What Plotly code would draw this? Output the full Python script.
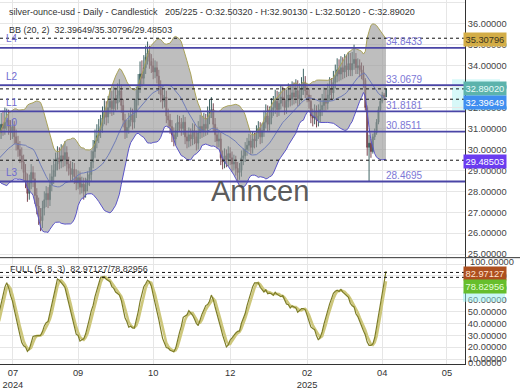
import numpy as np
import pandas as pd
import plotly.graph_objects as go

# ---------------- data ----------------
first_index = -25   # 25 warm-up bars before the visible window

opens = [
    30.20, 30.40, 29.60, 30.00, 31.30, 29.20, 29.60, 29.20, 29.60, 28.90,
    29.50, 29.40, 29.50, 30.10, 30.80, 29.60, 29.60, 29.00, 28.90, 29.20,
    29.10, 29.50, 29.60, 30.50, 30.80,
    31.20, 31.00, 31.30, 31.40, 31.05, 30.80, 31.10, 30.60, 30.30, 30.00,
    29.70, 29.40, 28.90, 28.50, 27.90, 28.40, 28.90, 28.60, 27.80, 27.30,
    26.80, 26.60, 27.20, 27.60, 27.90, 27.60, 28.30, 28.70, 29.00, 29.30,
    29.60, 29.40, 29.70, 29.50, 29.85, 29.30, 29.10, 28.80, 29.05, 28.70,
    28.40, 28.65, 28.20, 28.35, 28.00, 28.30, 28.60, 28.80, 29.40, 29.90,
    30.40, 30.65, 30.90, 31.10, 31.50, 31.80, 31.55, 32.00, 32.30, 31.95,
    32.45, 32.20, 32.60, 32.80, 32.10, 31.40, 30.85, 31.05, 31.40, 31.65,
    31.30, 31.80, 32.40, 33.00, 33.60, 33.40, 33.90, 34.40, 34.60, 34.20,
    34.00, 33.70, 33.90, 33.50, 33.00, 32.60, 32.30, 32.50, 31.60, 31.40,
    31.10, 30.70, 30.50, 30.90, 31.30, 31.20, 31.00, 31.30, 30.60, 30.40,
    30.70, 30.50, 30.90, 30.60, 30.30, 30.80, 31.10, 30.90, 31.20, 31.00,
    31.50, 31.80, 31.90, 31.20, 30.70, 30.40, 30.50, 29.60, 29.40, 29.70,
    29.50, 29.80, 29.60, 29.30, 29.40, 29.10, 28.90, 29.00, 29.60, 29.70,
    30.00, 30.20, 30.40, 30.10, 30.50, 30.40, 30.80, 31.00, 30.60, 30.90,
    31.30, 31.60, 31.20, 31.50, 31.90, 32.00, 32.30, 31.90, 32.20, 32.50,
    32.40, 32.00, 32.30, 32.60, 32.40, 32.70, 32.50, 32.80, 32.40, 32.60,
    32.90, 33.20, 32.80, 32.60, 32.30, 31.60, 31.50, 31.80, 31.40, 31.60,
    31.90, 32.10, 32.40, 32.20, 32.60, 32.90, 32.70, 33.20, 33.50, 33.80,
    33.60, 33.90, 33.70, 34.00, 33.80, 34.10, 33.80, 34.10, 34.30, 33.90,
    34.00, 33.80, 33.70, 33.30, 32.00, 30.10, 30.30, 29.90, 30.60, 30.80,
    31.30, 31.90, 32.30, 32.60, 32.5032,
]
highs = [
    30.80, 30.75, 30.35, 31.70, 31.65, 30.00, 29.95, 30.05, 29.90, 29.85,
    29.90, 29.95, 30.45, 31.20, 31.10, 30.10, 29.90, 29.40, 29.60, 29.55,
    29.80, 30.00, 31.00, 31.35, 31.75,
    31.85, 32.00, 31.95, 31.90, 31.40, 31.45, 31.35, 30.95, 30.65, 30.40,
    30.10, 29.75, 29.30, 28.85, 28.80, 29.30, 29.20, 28.90, 28.15, 27.70,
    27.20, 27.55, 28.00, 28.25, 28.20, 28.85, 29.25, 29.55, 29.85, 30.15,
    30.10, 30.25, 30.20, 30.40, 30.15, 29.65, 29.45, 29.40, 29.35, 29.05,
    29.00, 28.95, 28.70, 28.65, 28.65, 28.95, 29.15, 29.95, 30.45, 30.95,
    31.20, 31.45, 31.65, 32.05, 32.35, 32.30, 32.55, 32.85, 32.80, 33.00,
    32.95, 33.15, 33.35, 33.10, 32.40, 31.70, 31.40, 31.75, 32.00, 31.95,
    32.40, 33.00, 33.60, 34.20, 34.25, 34.50, 34.95, 35.15, 34.95, 34.55,
    34.35, 34.25, 34.20, 33.80, 33.30, 32.95, 32.85, 32.80, 31.95, 31.70,
    31.40, 31.05, 31.25, 31.65, 31.60, 31.50, 31.65, 31.55, 30.90, 31.05,
    31.00, 31.25, 31.20, 30.90, 31.35, 31.65, 31.60, 31.75, 31.70, 32.05,
    32.40, 32.50, 32.20, 31.50, 31.05, 30.90, 30.80, 29.95, 30.05, 30.00,
    30.15, 30.10, 29.90, 29.75, 29.70, 29.40, 29.35, 29.95, 30.05, 30.35,
    30.55, 30.75, 30.70, 30.85, 30.80, 31.15, 31.35, 31.30, 31.25, 31.85,
    32.15, 32.10, 32.05, 32.45, 32.55, 32.85, 32.80, 32.75, 33.05, 33.00,
    32.90, 32.85, 33.15, 33.10, 33.25, 33.20, 33.35, 33.30, 33.15, 33.45,
    33.85, 33.50, 33.10, 32.90, 32.60, 31.95, 32.15, 32.10, 32.15, 32.45,
    32.65, 32.95, 32.90, 33.15, 33.45, 33.40, 33.75, 34.05, 34.35, 34.30,
    34.45, 34.40, 34.55, 34.50, 34.65, 34.60, 34.65, 35.00, 34.60, 34.35,
    34.30, 34.15, 34.00, 33.40, 32.10, 30.70, 30.50, 30.75, 31.00, 31.45,
    32.05, 32.45, 32.75, 32.70, 32.9013,
]
lows = [
    29.85, 29.30, 29.25, 29.70, 28.85, 28.80, 28.85, 28.90, 28.50, 28.60,
    29.00, 29.05, 29.20, 29.80, 29.30, 29.25, 28.70, 28.50, 28.60, 28.75,
    28.80, 29.10, 29.30, 30.15, 30.50,
    30.65, 30.70, 30.90, 30.70, 30.45, 30.50, 30.25, 29.95, 29.65, 29.35,
    29.05, 28.55, 28.15, 27.50, 27.60, 28.10, 28.20, 27.40, 26.90, 26.40,
    26.10, 26.25, 26.85, 27.25, 27.20, 27.30, 28.00, 28.35, 28.70, 29.00,
    29.05, 29.10, 29.15, 29.20, 28.95, 28.75, 28.45, 28.50, 28.35, 28.05,
    28.10, 27.85, 27.90, 27.60, 27.70, 28.00, 28.25, 28.50, 29.10, 29.60,
    30.05, 30.30, 30.55, 30.80, 31.20, 31.15, 31.25, 31.70, 31.60, 31.65,
    31.85, 31.90, 32.25, 31.75, 31.05, 30.50, 30.55, 30.75, 31.10, 30.95,
    31.00, 31.50, 32.10, 32.70, 33.00, 33.10, 33.60, 34.05, 33.85, 33.65,
    33.35, 33.40, 33.15, 32.65, 32.25, 31.95, 32.00, 31.25, 31.05, 30.75,
    30.35, 30.15, 30.20, 30.60, 30.85, 30.65, 30.70, 30.25, 30.05, 30.10,
    30.15, 30.20, 30.25, 29.95, 30.00, 30.50, 30.55, 30.60, 30.65, 30.70,
    31.20, 31.50, 30.85, 30.35, 30.05, 30.10, 29.25, 29.05, 29.10, 29.15,
    29.20, 29.25, 28.95, 29.00, 28.75, 28.50, 28.55, 28.70, 29.25, 29.40,
    29.70, 29.90, 29.75, 29.80, 30.05, 30.10, 30.50, 30.25, 30.30, 30.60,
    31.00, 30.85, 30.90, 31.20, 31.60, 31.70, 31.55, 31.60, 31.90, 32.05,
    31.65, 31.70, 32.00, 32.05, 32.10, 32.15, 32.20, 32.05, 32.10, 32.30,
    32.60, 32.45, 32.25, 31.95, 31.25, 31.10, 31.20, 31.05, 31.10, 31.30,
    31.60, 31.80, 31.85, 31.90, 32.30, 32.35, 32.40, 32.90, 33.20, 33.25,
    33.30, 33.35, 33.40, 33.45, 33.50, 33.50, 33.50, 33.80, 33.60, 33.60,
    33.45, 33.35, 32.95, 31.85, 29.70, 28.45, 29.60, 29.80, 30.45, 30.70,
    31.20, 31.80, 32.20, 32.35, 32.5012,
]
closes = [
    30.40, 29.60, 30.00, 31.30, 29.20, 29.60, 29.20, 29.60, 28.90, 29.50,
    29.40, 29.50, 30.10, 30.80, 29.60, 29.60, 29.00, 28.90, 29.20, 29.10,
    29.50, 29.60, 30.50, 30.80, 31.20,
    31.00, 31.30, 31.40, 31.05, 30.80, 31.10, 30.60, 30.30, 30.00, 29.70,
    29.40, 28.90, 28.50, 27.90, 28.40, 28.90, 28.60, 27.80, 27.30, 26.80,
    26.60, 27.20, 27.60, 27.90, 27.60, 28.30, 28.70, 29.00, 29.30, 29.60,
    29.40, 29.70, 29.50, 29.85, 29.30, 29.10, 28.80, 29.05, 28.70, 28.40,
    28.65, 28.20, 28.35, 28.00, 28.30, 28.60, 28.80, 29.40, 29.90, 30.40,
    30.65, 30.90, 31.10, 31.50, 31.80, 31.55, 32.00, 32.30, 31.95, 32.45,
    32.20, 32.60, 32.80, 32.10, 31.40, 30.85, 31.05, 31.40, 31.65, 31.30,
    31.80, 32.40, 33.00, 33.60, 33.40, 33.90, 34.40, 34.60, 34.20, 34.00,
    33.70, 33.90, 33.50, 33.00, 32.60, 32.30, 32.50, 31.60, 31.40, 31.10,
    30.70, 30.50, 30.90, 31.30, 31.20, 31.00, 31.30, 30.60, 30.40, 30.70,
    30.50, 30.90, 30.60, 30.30, 30.80, 31.10, 30.90, 31.20, 31.00, 31.50,
    31.80, 31.90, 31.20, 30.70, 30.40, 30.50, 29.60, 29.40, 29.70, 29.50,
    29.80, 29.60, 29.30, 29.40, 29.10, 28.90, 29.00, 29.60, 29.70, 30.00,
    30.20, 30.40, 30.10, 30.50, 30.40, 30.80, 31.00, 30.60, 30.90, 31.30,
    31.60, 31.20, 31.50, 31.90, 32.00, 32.30, 31.90, 32.20, 32.50, 32.40,
    32.00, 32.30, 32.60, 32.40, 32.70, 32.50, 32.80, 32.40, 32.60, 32.90,
    33.20, 32.80, 32.60, 32.30, 31.60, 31.50, 31.80, 31.40, 31.60, 31.90,
    32.10, 32.40, 32.20, 32.60, 32.90, 32.70, 33.20, 33.50, 33.80, 33.60,
    33.90, 33.70, 34.00, 33.80, 34.10, 33.80, 34.10, 34.30, 33.90, 34.00,
    33.80, 33.70, 33.30, 32.00, 30.10, 30.30, 29.90, 30.60, 30.80, 31.30,
    31.90, 32.30, 32.60, 32.50, 32.8902,
]
assert len(opens) == len(highs) == len(lows) == len(closes) == 230

level_names = ["L4", "L2", "L1", "L0", "L3"]
level_values = [34.8433, 33.0679, 31.8181, 30.8511, 28.4695]
level_texts = ["34.8433", "33.0679", "31.8181", "30.8511", "28.4695"]

bb_mid_last, bb_up_last, bb_lo_last = 32.39649, 35.30796, 29.48503
last_close = 32.89020
stoch_k_last, stoch_d_last = 82.97127, 78.82956

price_ticks = list(range(25, 38))
stoch_ticks = list(range(10, 100, 10))
stoch_tick_text = [f"{v:.5f}" if v < 90 else "" for v in stoch_ticks]
stoch_edge_labels = ["100.00000", "0.00000"]
month_labels = ["07<br>2024", "09", "10", "12", "02<br>2025", "04", "05"]
month_label_pos = [5.3, 40, 80, 121, 162, 202, 236.5]

title_text = ("silver-ounce-usd - Daily - Candlestick\u00a0\u00a0\u00a0205/225 - O:32.50320 - "
              "H:32.90130 - L:32.50120 - C:32.89020")
bb_text = "BB (20, 2)\u00a0\u00a032.39649/35.30796/29.48503"
stoch_text = "FULL (5, 8, 3)\u00a0\u00a082.97127/78.82956"

# ---------------- indicators ----------------
idx = np.arange(first_index, first_index + len(closes))
df = pd.DataFrame({"o": opens, "h": highs, "l": lows, "c": closes}, index=idx)
mid = df["c"].rolling(20).mean()
sd = df["c"].rolling(20).std(ddof=0)
up = mid + 2 * sd
lo = mid - 2 * sd
ll = df["l"].rolling(5).min()
hh = df["h"].rolling(5).max()
raw_k = 100 * (df["c"] - ll) / (hh - ll)
k_line = raw_k.rolling(8).mean()
d_line = k_line.rolling(3).mean()

# ---------------- layout geometry ----------------
W, H = 520, 390
ML, MR, MT, MB = 0, 55, 0, 22
PH = H - MT - MB          # 368 plot px
PW = W - ML - MR          # 465
def ypx(px):
    return 1 - px / PH

x_range = [-1.6, 246.1]
FONT = "Liberation Sans, Arial, sans-serif"
FS = 9.3      # axis labels / flags
FH = 9.0      # header texts

fig = go.Figure()

# Bollinger bands
fig.add_trace(go.Scatter(x=idx, y=up, mode="lines", line=dict(color="#a9a25a", width=1),
                         xaxis="x", yaxis="y", hoverinfo="skip"))
fig.add_trace(go.Scatter(x=idx, y=lo, mode="lines", line=dict(color="#5b55c9", width=1),
                         fill="tonexty", fillcolor="rgba(150,150,150,0.62)",
                         xaxis="x", yaxis="y", hoverinfo="skip"))
fig.add_trace(go.Scatter(x=idx, y=mid, mode="lines", line=dict(color="#6f7cb8", width=1),
                         xaxis="x", yaxis="y", hoverinfo="skip"))

# candles
fig.add_trace(go.Candlestick(
    x=idx, open=df["o"], high=df["h"], low=df["l"], close=df["c"],
    increasing=dict(line=dict(color="#3f6464", width=1), fillcolor="#3f6464"),
    decreasing=dict(line=dict(color="#7a4650", width=1), fillcolor="#7a4650"),
    whiskerwidth=0, xaxis="x", yaxis="y"))

# stochastic
fig.add_trace(go.Scatter(x=idx, y=d_line, mode="lines", line=dict(color="#cdc77c", width=2.6),
                         xaxis="x2", yaxis="y2", hoverinfo="skip"))
fig.add_trace(go.Scatter(x=idx, y=k_line, mode="lines", line=dict(color="#7d7d28", width=1.2),
                         xaxis="x2", yaxis="y2", hoverinfo="skip"))

shapes = []
annotations = []

# level lines
for name, val, txt in zip(level_names, level_values, level_texts):
    shapes.append(dict(type="line", xref="paper", x0=0, x1=1, yref="y", y0=val, y1=val,
                       line=dict(color="#4a45a6", width=1.8)))
    annotations.append(dict(xref="paper", x=0, xanchor="left", xshift=4, yref="y", y=val,
                            yshift=9, text=name, showarrow=False,
                            font=dict(family=FONT, size=10, color="#6e6ad0")))
    annotations.append(dict(xref="paper", x=384 / PW, xanchor="left", yref="y", y=val,
                            yshift=6, text=txt, showarrow=False,
                            font=dict(family=FONT, size=10, color="#7c78d6")))

# dashed current-value lines
for val in [bb_up_last, last_close, bb_mid_last, bb_lo_last]:
    shapes.append(dict(type="line", xref="paper", x0=0, x1=1, yref="y", y0=val, y1=val,
                       line=dict(color="#111111", width=1, dash="3px,3px")))
for val in [stoch_k_last, stoch_d_last]:
    shapes.append(dict(type="line", xref="paper", x0=0, x1=1, yref="y2", y0=val, y1=val,
                       line=dict(color="#111111", width=1, dash="3px,3px")))

# cyan halos behind the flags
shapes.append(dict(type="rect", xref="paper", x0=452 / PW, x1=500 / PW, yref="paper",
                   y0=ypx(112), y1=ypx(80), fillcolor="rgba(140,235,235,0.35)",
                   line=dict(width=0), layer="below"))
shapes.append(dict(type="rect", xref="paper", x0=463 / PW, x1=505 / PW, yref="paper",
                   y0=ypx(305), y1=ypx(295), fillcolor="rgba(150,240,240,0.5)",
                   line=dict(width=0), layer="above"))

# panel separator across into the label area
shapes.append(dict(type="line", xref="paper", x0=0, x1=W / PW, yref="paper",
                   y0=ypx(260.5), y1=ypx(260.5), line=dict(color="#333333", width=1)))

# edge labels of the oscillator scale (squeezed into the panel as in the source)
annotations.append(dict(xref="paper", x=1, xanchor="left", xshift=3, yref="paper", y=ypx(265),
                        yanchor="middle", text=stoch_edge_labels[0], showarrow=False,
                        font=dict(family=FONT, size=FS, color="#444444")))
annotations.append(dict(xref="paper", x=1, xanchor="left", xshift=1, yref="paper", y=ypx(367),
                        yanchor="middle", text=stoch_edge_labels[1], showarrow=False,
                        font=dict(family=FONT, size=FS, color="#444444")))

# value flags
flags = [
    (bb_up_last, "y", "#d3ad47", "#3a3520", -1),
    (last_close, "y", "#5cb3ac", "#e8fbfa", 0),
    (bb_mid_last, "y", "#3f8ef0", "#ffffff", -3),
    (bb_lo_last, "y", "#6a3cf0", "#ffffff", -1),
    (stoch_k_last, "y2", "#ad4f1f", "#ffe2d2", -1.5),
    (stoch_d_last, "y2", "#66be2c", "#e6ffd8", -9.5),
]
for val, yr, bg, fc, ys in flags:
    annotations.append(dict(xref="paper", x=1, xanchor="left", xshift=-2, yref=yr, y=val,
                            yshift=ys, text=f"{val:.5f}", showarrow=False, bgcolor=bg,
                            borderpad=1.5, font=dict(family=FONT, size=FS, color=fc)))

# header texts
annotations.append(dict(xref="paper", x=0, xanchor="left", xshift=7, yref="paper", y=ypx(12),
                        yanchor="middle", text=title_text, showarrow=False,
                        font=dict(family=FONT, size=FH, color="#333333")))
annotations.append(dict(xref="paper", x=0, xanchor="left", xshift=7, yref="paper", y=ypx(30),
                        yanchor="middle", text=bb_text, showarrow=False,
                        font=dict(family=FONT, size=FH, color="#333333")))
annotations.append(dict(xref="paper", x=0, xanchor="left", xshift=8, yref="paper", y=ypx(272),
                        yanchor="middle", text=stoch_text, showarrow=False,
                        font=dict(family=FONT, size=FH, color="#333333")))
# watermark
annotations.append(dict(xref="paper", x=260 / PW, xanchor="center", yref="paper", y=ypx(193),
                        yanchor="middle", text="Anncen", showarrow=False,
                        font=dict(family=FONT, size=29, color="rgba(70,70,70,0.9)")))

grid = "#e6e6e6"
fig.update_layout(
    width=W, height=H, margin=dict(l=ML, r=MR, t=MT, b=MB),
    paper_bgcolor="white", plot_bgcolor="white", showlegend=False,
    shapes=shapes, annotations=annotations,
    xaxis=dict(domain=[0, 1], anchor="y", range=x_range, tickvals=month_label_pos,
               showticklabels=False, showgrid=True, gridcolor=grid, zeroline=False,
               rangeslider=dict(visible=False), ticks=""),
    xaxis2=dict(domain=[0, 1], anchor="y2", range=x_range, tickvals=month_label_pos,
                ticktext=month_labels, showgrid=True, gridcolor=grid, zeroline=False,
                showline=True, linecolor="#333333", linewidth=1, ticks="",
                tickfont=dict(family=FONT, size=FS, color="#333333")),
    yaxis=dict(domain=[ypx(260), 1], anchor="x", range=[24.857, 37.133], side="right",
               tickvals=price_ticks, ticktext=[f"{v:.5f}" for v in price_ticks],
               showgrid=True, gridcolor=grid, zeroline=False, showline=True,
               linecolor="#333333", linewidth=1, ticks="",
               tickfont=dict(family=FONT, size=FS, color="#444444")),
    yaxis2=dict(domain=[0, ypx(261)], anchor="x2", range=[5.83, 95.0], side="right",
                tickvals=stoch_ticks, ticktext=stoch_tick_text,
                showgrid=True, gridcolor=grid, zeroline=False, showline=True,
                linecolor="#333333", linewidth=1, ticks="",
                tickfont=dict(family=FONT, size=FS, color="#444444")),
)

fig.write_html("out.html")
